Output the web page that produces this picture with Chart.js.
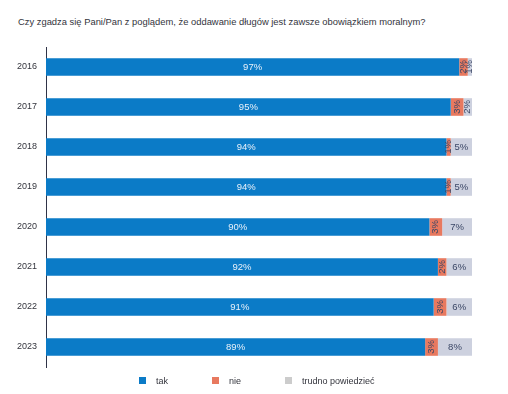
<!DOCTYPE html>
<html lang="pl">
<head>
<meta charset="utf-8">
<script src="https://cdn.jsdelivr.net/npm/chart.js@4.4.1/dist/chart.umd.min.js"></script>
<style>
  html, body { margin: 0; padding: 0; background: #fff; }
  #wrap { position: relative; width: 508px; height: 394px; font-family: "Liberation Sans", Arial, sans-serif; color: #33343c; }
  #title { position: absolute; left: 18px; top: 16px; font-size: 9.4px; white-space: nowrap; }
  #chart { position: absolute; left: 0; top: 0; }
  #legend { position: absolute; top: 375px; left: 0; font-size: 9px; }
  .item { position: absolute; top: 0; white-space: nowrap; }
  .box { position: absolute; top: 2px; width: 7px; height: 7px; }
  .txt { position: absolute; left: 17px; top: 0; line-height: 12px; }
</style>
</head>
<body>
<div id="wrap">
  <div id="title">Czy zgadza się Pani/Pan z poglądem, że oddawanie długów jest zawsze obowiązkiem moralnym?</div>
  <canvas id="chart" width="508" height="394"></canvas>
  <div id="legend"></div>
</div>
<script>
// lata
const years = ["2016", "2017", "2018", "2019", "2020", "2021", "2022", "2023"];

// odpowiedzi (%)
const tak = [97, 95, 94, 94, 90, 92, 91, 89];
const nie = [2, 3, 1, 1, 3, 2, 3, 3];
const trudno = [1, 2, 5, 5, 7, 6, 6, 8];

const seriesNames = ["tak", "nie", "trudno powiedzieć"];
const barColors = ["#0b7bc7", "#e8795f", "#cdd1df"];
const legendColors = ["#0b7bc7", "#e8795f", "#cccccc"];
const labelColors = ["#e8f1fa", "#3b4766", "#3b4766"];

// etykiety wartości na słupkach
const valueLabels = {
  id: "valueLabels",
  afterDatasetsDraw(chart) {
    const ctx = chart.ctx;
    ctx.save();
    ctx.font = "9.5px 'Liberation Sans', Arial, sans-serif";
    ctx.textAlign = "center";
    ctx.textBaseline = "middle";
    chart.data.datasets.forEach((ds, i) => {
      const meta = chart.getDatasetMeta(i);
      meta.data.forEach((bar, j) => {
        const v = ds.data[j];
        const w = Math.abs(bar.x - bar.base);
        const cx = (bar.x + bar.base) / 2;
        ctx.fillStyle = labelColors[i];
        const text = v + "%";
        if (w < 18) {
          ctx.save();
          ctx.translate(cx, bar.y);
          ctx.rotate(-Math.PI / 2);
          ctx.fillText(text, 0, 0);
          ctx.restore();
        } else {
          ctx.fillText(text, cx, bar.y);
        }
      });
    });
    ctx.restore();
  },
};

const ctx = document.getElementById("chart").getContext("2d");

new Chart(ctx, {
  type: "bar",
  data: {
    labels: years,
    datasets: [tak, nie, trudno].map((d, i) => ({
      label: seriesNames[i],
      data: d,
      backgroundColor: barColors[i],
      barPercentage: 0.44,
      categoryPercentage: 1,
    })),
  },
  options: {
    indexAxis: "y",
    responsive: false,
    animation: false,
    layout: { padding: { top: 47, bottom: 27, right: 36, left: 0 } },
    plugins: {
      legend: { display: false },
      tooltip: { enabled: false },
    },
    scales: {
      x: {
        stacked: true,
        min: 0,
        max: 100,
        display: false,
      },
      y: {
        stacked: true,
        grid: { display: false, drawTicks: false },
        border: { display: true, color: "#2f3347", width: 1 },
        ticks: {
          color: "#33343c",
          padding: 9,
          font: { family: "'Liberation Sans', Arial, sans-serif", size: 9 },
        },
        afterFit(scale) {
          scale.width = 46;
        },
      },
    },
  },
  plugins: [valueLabels],
});

// legenda
const legendX = [139, 212, 285];
const legend = document.getElementById("legend");
seriesNames.forEach((name, i) => {
  const item = document.createElement("div");
  item.className = "item";
  item.style.left = legendX[i] + "px";
  item.innerHTML = `<span class="box" style="background:${legendColors[i]}"></span><span class="txt">${name}</span>`;
  legend.appendChild(item);
});
</script>
</body>
</html>
